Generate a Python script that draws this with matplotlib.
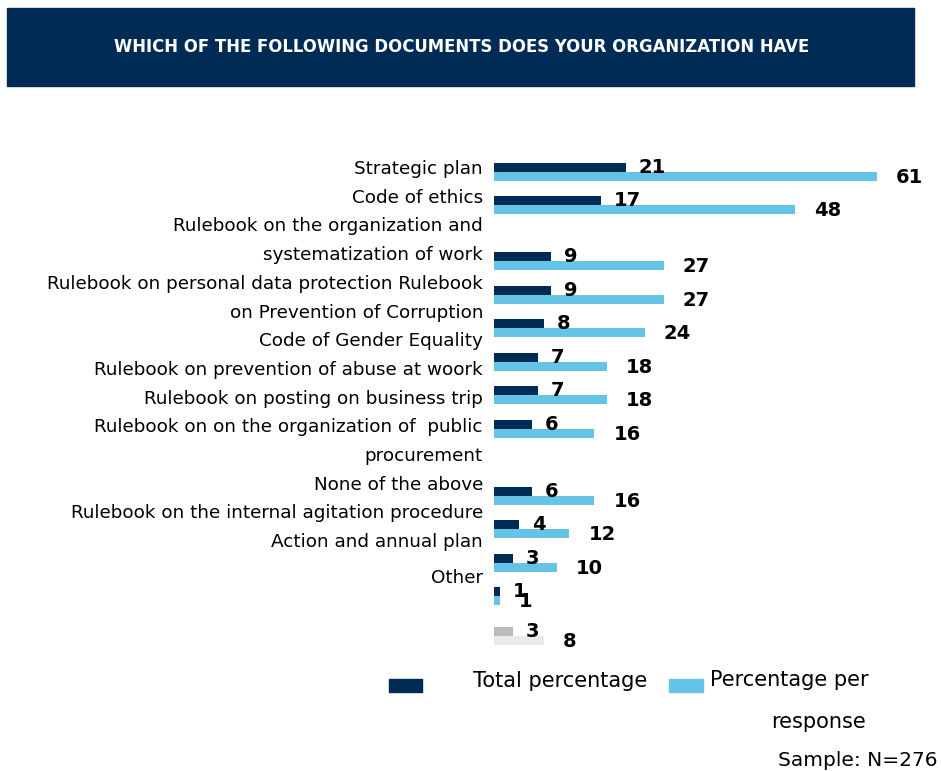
import numpy as np
import matplotlib.pyplot as plt
from matplotlib.patches import Rectangle

# survey answers, % (dark = total percentage, light = percentage per response)
total_pct = [21, 17, 9, 9, 8, 7, 7, 6, 6, 4, 3, 1, 3]
per_response = [61, 48, 27, 27, 24, 18, 18, 16, 16, 12, 10, 1, 8]

label_lines = [
    "Strategic plan",
    "Code of ethics",
    "Rulebook on the organization and",
    "systematization of work",
    "Rulebook on personal data protection Rulebook",
    "on Prevention of Corruption",
    "Code of Gender Equality",
    "Rulebook on prevention of abuse at woork",
    "Rulebook on posting on business trip",
    "Rulebook on on the organization of  public",
    "procurement",
    "None of the above",
    "Rulebook on the internal agitation procedure",
    "Action and annual plan",
    "Other",
]

title = "WHICH OF THE FOLLOWING DOCUMENTS DOES YOUR ORGANIZATION HAVE"

navy = "#002B54"
sky = "#65C3E6"
dark_colors = [navy] * 12 + ["#BBBBBB"]
light_colors = [sky] * 12 + ["#ECEAE8"]

W, H = 941, 771
fig = plt.figure(figsize=(W / 100, H / 100), dpi=100)

def fx(px):
    return px / W

def fy(py):
    return 1 - py / H

# header band
fig.patches.append(Rectangle((fx(7), fy(86)), fx(907), 78 / H,
                             transform=fig.transFigure, color=navy, zorder=0))
fig.text(fx(462), fy(47), title, color="white", fontsize=11.9,
         fontweight="bold", ha="center", va="center")

# bar area
ax = fig.add_axes([fx(494), fy(660), fx(W - 494), 520 / H])
step = 33.5
ax.set_xlim(0, (W - 494) / 6.28)
ax.set_ylim((660 - 172) / step, -(172 - 140) / step)
ax.axis("off")

# extra space between some groups
gaps = np.zeros(len(total_pct))
gaps[2] = 0.67
gaps[8] = 1.0
gaps[12] = 0.17
pos = np.arange(len(total_pct)) + np.cumsum(gaps)
h = 9 / step

ax.barh(pos - h / 2, total_pct, height=h, color=dark_colors)
ax.barh(pos + h / 2, per_response, height=h, color=light_colors)

for p, v in zip(pos, total_pct):
    ax.annotate(str(v), (v, p - h / 2), xytext=(13, 0), textcoords="offset pixels",
                ha="left", va="center", fontsize=14, fontweight="bold")
for p, v in zip(pos, per_response):
    ax.annotate(str(v), (v, p + h / 2), xytext=(19, -1), textcoords="offset pixels",
                ha="left", va="center", fontsize=14, fontweight="bold")

# category text column
for i, line in enumerate(label_lines):
    y = 169 + i * 28.7
    if line == "Other":
        y += 7
    fig.text(fx(483), fy(y), line, ha="right", va="center", fontsize=13.2)

# legend
fig.patches.append(Rectangle((fx(389), fy(692)), fx(33), 13 / H,
                             transform=fig.transFigure, color=navy))
fig.text(fx(473), fy(681), "Total percentage", fontsize=15, ha="left", va="center")
fig.patches.append(Rectangle((fx(669), fy(692)), fx(34), 13 / H,
                             transform=fig.transFigure, color=sky))
fig.text(fx(710), fy(680), "Percentage per", fontsize=15, ha="left", va="center")
fig.text(fx(866), fy(722), "response", fontsize=15, ha="right", va="center")
fig.text(fx(938), fy(760), "Sample: N=276", fontsize=14.5, ha="right", va="center")

fig.savefig("out.png", dpi=100)
